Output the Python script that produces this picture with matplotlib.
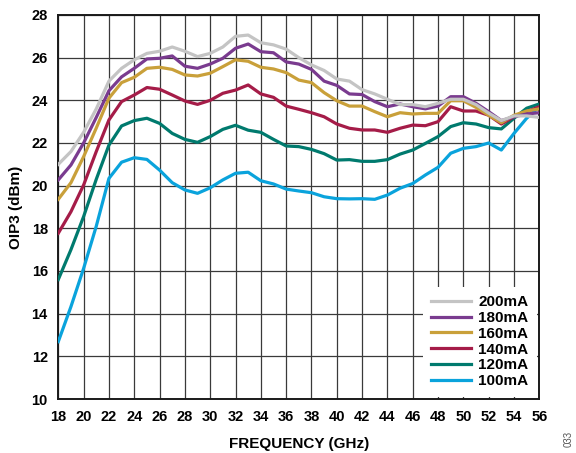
import matplotlib
matplotlib.use("Agg")
import matplotlib.pyplot as plt

freq = list(range(18, 57))

oip3_200 = [21.0, 21.6, 22.5, 23.6, 24.9, 25.5, 25.9, 26.2, 26.3, 26.5, 26.3, 26.05, 26.2, 26.5, 27.0, 27.06,
            26.7, 26.6, 26.4, 26.0, 25.66, 25.4, 25.0, 24.9, 24.5, 24.3, 24.05, 23.8, 23.8, 23.7, 23.86,
            24.05, 24.05, 23.8, 23.4, 23.05, 23.27, 23.27, 23.2]
oip3_180 = [20.27, 20.97, 22.0, 23.2, 24.45, 25.1, 25.5, 25.94, 25.97, 26.08, 25.6, 25.5, 25.7, 25.97, 26.44, 26.64,
            26.28, 26.23, 25.8, 25.7, 25.45, 24.9, 24.7, 24.3, 24.27, 23.94, 23.7, 23.83, 23.7, 23.6, 23.73,
            24.17, 24.17, 23.86, 23.47, 23.05, 23.23, 23.36, 23.42]
oip3_160 = [19.36, 20.14, 21.36, 22.7, 24.1, 24.83, 25.08, 25.5, 25.55, 25.45, 25.19, 25.14, 25.27, 25.58, 25.9, 25.83,
            25.55, 25.47, 25.3, 24.95, 24.83, 24.36, 23.98, 23.73, 23.73, 23.47, 23.23, 23.42, 23.36, 23.39, 23.39,
            23.98, 23.98, 23.67, 23.3, 22.95, 23.3, 23.5, 23.6]
oip3_140 = [17.77, 18.78, 20.03, 21.6, 23.08, 23.94, 24.25, 24.6, 24.52, 24.25, 23.97, 23.81, 24.0, 24.33, 24.48, 24.72,
            24.3, 24.14, 23.73, 23.58, 23.42, 23.23, 22.89, 22.69, 22.61, 22.61, 22.5, 22.69, 22.84, 22.81, 23.0,
            23.7, 23.5, 23.5, 23.3, 22.89, 23.23, 23.47, 23.7]
oip3_120 = [15.6, 17.0, 18.55, 20.3, 21.9, 22.8, 23.05, 23.16, 22.92, 22.45, 22.17, 22.03, 22.3, 22.64, 22.83, 22.6,
            22.5, 22.17, 21.86, 21.83, 21.7, 21.5, 21.2, 21.22, 21.14, 21.14, 21.22, 21.48, 21.67, 21.98, 22.3,
            22.77, 22.95, 22.89, 22.72, 22.66, 23.16, 23.63, 23.83]
oip3_100 = [12.69, 14.33, 16.12, 18.1, 20.34, 21.1, 21.31, 21.23, 20.73, 20.14, 19.8, 19.64, 19.9, 20.27, 20.58, 20.63,
            20.23, 20.08, 19.84, 19.75, 19.67, 19.48, 19.39, 19.38, 19.39, 19.36, 19.56, 19.88, 20.1, 20.5, 20.86,
            21.52, 21.75, 21.83, 22.0, 21.67, 22.45, 23.16, 23.7]

labels = ["200mA", "180mA", "160mA", "140mA", "120mA", "100mA"]
series = [oip3_200, oip3_180, oip3_160, oip3_140, oip3_120, oip3_100]
colors = ["#c4c4c4", "#7a3b8f", "#c9a03a", "#a51c48", "#007a6e", "#0aa3dc"]

x_ticks = list(range(18, 57, 2))
y_ticks = list(range(10, 29, 2))

plt.rcParams['font.family'] = ['Liberation Sans', 'DejaVu Sans']
plt.rcParams['font.weight'] = 'bold'

fig = plt.figure(figsize=(5.76, 4.53), dpi=100)
ax = fig.add_axes([0.1012, 0.1192, 0.8351, 0.8477])

handles = {}
for lab, ys, c in reversed(list(zip(labels, series, colors))):
    h, = ax.plot(freq, ys, color=c, lw=2.3, solid_joinstyle='round', zorder=3)
    handles[lab] = h

ax.set_xlim(18, 56)
ax.set_ylim(10, 28)
ax.set_xticks(x_ticks)
ax.set_yticks(y_ticks)
ax.tick_params(axis='both', length=0, labelsize=10.5)
ax.tick_params(axis='y', pad=7.5)
ax.tick_params(axis='x', pad=8)
for t in ax.get_xticklabels() + ax.get_yticklabels():
    t.set_fontweight('bold')
ax.grid(True, color='#3a3a3a', lw=0.9, zorder=1)
for s in ax.spines.values():
    s.set_linewidth(1.4)
    s.set_color('#1a1a1a')

ax.set_xlabel("FREQUENCY (GHz)", fontsize=11, fontweight='bold', labelpad=9)
ax.set_ylabel("OIP3 (dBm)", fontsize=11, fontweight='bold', labelpad=6)

leg = ax.legend([handles[l] for l in labels], labels, loc='lower right',
                frameon=True, fancybox=False, framealpha=1, edgecolor='white',
                fontsize=11, handlelength=2.6, handletextpad=0.5,
                labelspacing=0.12, borderaxespad=0.15, borderpad=0.55)
leg.get_frame().set_linewidth(0)
for t in leg.get_texts():
    t.set_fontweight('bold')
leg.set_zorder(5)

fig.text(0.988, 0.03, "033", rotation=90, fontsize=7, color='#555555',
         fontweight='normal', ha='center', va='center')

fig.savefig("out.png", dpi=100)
